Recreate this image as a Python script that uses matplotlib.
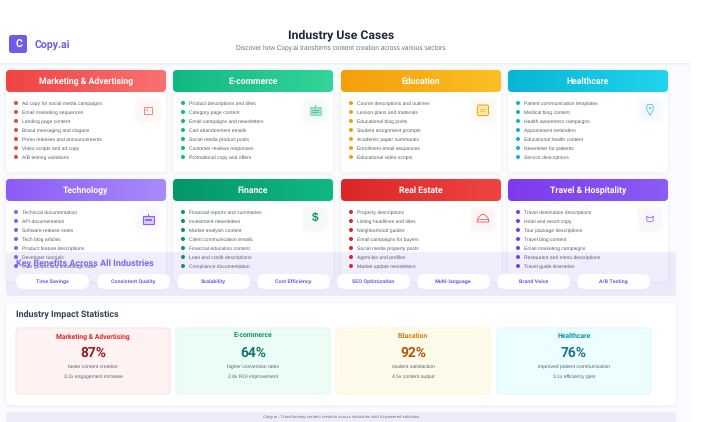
import numpy as np
import matplotlib
matplotlib.use("Agg")
import matplotlib.pyplot as plt
from matplotlib.patches import FancyBboxPatch, Rectangle, Circle, Polygon
from matplotlib.colors import to_rgb

# ---------- content ----------
brand = "Copy.ai"
title = "Industry Use Cases"
subtitle = "Discover how Copy.ai transforms content creation across various sectors"

industries = ["Marketing & Advertising", "E-commerce", "Education", "Healthcare",
              "Technology", "Finance", "Real Estate", "Travel & Hospitality"]
grad_start = ["#ef4444", "#10b981", "#f59e0b", "#06b6d4", "#8b5cf6", "#059669", "#dc2626", "#7c3aed"]
grad_end = ["#f87171", "#34d399", "#fbbf24", "#22d3ee", "#a78bfa", "#10b981", "#ef4444", "#8b5cf6"]
use_cases = [
    ["Ad copy for social media campaigns", "Email marketing sequences", "Landing page content",
     "Brand messaging and slogans", "Press releases and announcements", "Video scripts and ad copy", "A/B testing variations"],
    ["Product descriptions and titles", "Category page content", "Email campaigns and newsletters",
     "Cart abandonment emails", "Social media product posts", "Customer reviews responses", "Promotional copy and offers"],
    ["Course descriptions and outlines", "Lesson plans and materials", "Educational blog posts",
     "Student assignment prompts", "Academic paper summaries", "Enrollment email sequences", "Educational video scripts"],
    ["Patient communication templates", "Medical blog content", "Health awareness campaigns",
     "Appointment reminders", "Educational health content", "Newsletter for patients", "Service descriptions"],
    ["Technical documentation", "API documentation", "Software release notes", "Tech blog articles",
     "Product feature descriptions", "Developer tutorials", "User guides and knowledge base"],
    ["Financial reports and summaries", "Investment newsletters", "Market analysis content",
     "Client communication emails", "Financial education content", "Loan and credit descriptions", "Compliance documentation"],
    ["Property descriptions", "Listing headlines and titles", "Neighborhood guides", "Email campaigns for buyers",
     "Social media property posts", "Agent bio and profiles", "Market update newsletters"],
    ["Travel destination descriptions", "Hotel and resort copy", "Tour package descriptions", "Travel blog content",
     "Email marketing campaigns", "Restaurant and menu descriptions", "Travel guide itineraries"],
]
benefits_title = "Key Benefits Across All Industries"
benefits = ["Time Savings", "Consistent Quality", "Scalability", "Cost Efficiency",
            "SEO Optimization", "Multi-language", "Brand Voice", "A/B Testing"]
stats_title = "Industry Impact Statistics"
stat_names = ["Marketing & Advertising", "E-commerce", "Education", "Healthcare"]
stat_values = [87, 64, 92, 76]
stat_line1 = ["faster content creation", "higher conversion rates", "student satisfaction", "improved patient communication"]
stat_line2 = ["3.2x engagement increase", "2.8x ROI improvement", "4.5x content output", "3.1x efficiency gain"]
stat_bg = ["#fef2f2", "#ecfdf5", "#fffbeb", "#ecfeff"]
stat_edge = ["#fce0e0", "#dcfaea", "#fdf3d0", "#d8fafd"]
stat_head = ["#dc2626", "#059669", "#d97706", "#0891b2"]
stat_num = ["#991b1b", "#0f766e", "#b45309", "#1f6f93"]
footer = "Copy.ai - Transforming content creation across industries with AI-powered solutions"

FONT = "Liberation Sans"
plt.rcParams["font.family"] = FONT
plt.rcParams["text.hinting"] = "no_hinting"
plt.rcParams["text.hinting_factor"] = 8

fig = plt.figure(figsize=(7.11, 4.22), dpi=100)
ax = fig.add_axes([0, 0, 1, 1])
ax.set_xlim(0, 711)
ax.set_ylim(422, 0)
ax.axis("off")


def rbox(x0, y0, x1, y1, r, fc, ec="none", lw=0, z=1, alpha=None):
    p = FancyBboxPatch((x0 + r, y0 + r), x1 - x0 - 2 * r, y1 - y0 - 2 * r,
                       boxstyle=f"round,pad={r},rounding_size={r}",
                       fc=fc, ec=ec, lw=lw, zorder=z, alpha=alpha)
    ax.add_patch(p)
    return p


def gradient(x0, y0, x1, y1, r, c0, c1, z=2):
    c0, c1 = np.array(to_rgb(c0)), np.array(to_rgb(c1))
    t = np.linspace(0, 1, 128)[None, :, None]
    img = c0[None, None, :] * (1 - t) + c1[None, None, :] * t
    im = ax.imshow(img, extent=(x0, x1, y1, y0), aspect="auto", zorder=z, interpolation="bilinear")
    clip = rbox(x0, y0, x1, y1, r, "none", z=z)
    im.set_clip_path(clip)


def shadow(x0, y0, x1, y1, r, z):
    for d, a in ((3, 0.006), (2, 0.009), (1, 0.012)):
        rbox(x0 - d, y0 - d + 1, x1 + d, y1 + d + 1, r + d, "#475569", z=z, alpha=a)


def txt(x, y, s, size, color, ha="left", weight="normal", z=6, alpha=None, family=None):
    ax.text(x, y, s, fontsize=size, color=color, ha=ha, va="center", fontweight=weight,
            zorder=z, alpha=alpha, fontfamily=family or FONT)


# ---------- page background ----------
ax.add_patch(Rectangle((0, 63), 691, 359, fc="#f9fbfe", ec="none", zorder=0))
for i, a in enumerate((0.05, 0.03, 0.015)):
    ax.add_patch(Rectangle((0, 63 + i), 691, 1, fc="#334155", alpha=a, ec="none", zorder=0.5))

# ---------- header ----------
rbox(9, 35, 27, 53, 2.5, "#6c5ce7", z=2)
txt(18.5, 44.5, "C", 7.6, "white", ha="center", weight="bold", family="Roboto")
txt(35, 44.5, brand, 7.6, "#6c5ce7", weight="bold", family="Roboto")
txt(341, 35, title, 8.8, "#1e293b", ha="center", weight="bold", family="Roboto")
txt(341, 47.5, subtitle, 4.7, "#6b7280", ha="center")

# ---------- cards ----------
card_x = [(6, 166), (173, 333), (341, 501), (508, 668)]
rows = [(70, 92, 172, 103), (179, 201, 281, 212)]


def draw_icon(i, cx, cy, col):
    kw = dict(fill=False, ec=col, lw=0.7, zorder=4, alpha=0.65)
    if i == 0:
        ax.add_patch(Rectangle((cx - 4, cy - 3.5), 8, 7, **kw))
        ax.add_patch(Rectangle((cx - 2.5, cy - 1.5), 2.5, 2.5, fc=col, ec="none", alpha=0.4, zorder=4))
    elif i == 1:
        ax.add_patch(Rectangle((cx - 5.5, cy - 3), 11, 7.5, fc=col, ec=col, lw=0.7, alpha=0.35, zorder=4))
        ax.plot([cx - 3, cx + 3], [cy, cy], color=col, lw=0.6, alpha=0.7, zorder=5)
        ax.plot([cx - 3, cx + 3], [cy + 2, cy + 2], color=col, lw=0.6, alpha=0.7, zorder=5)
        ax.plot([cx, cx], [cy - 5, cy - 3], color=col, lw=0.7, alpha=0.7, zorder=5)
    elif i == 2:
        rbox(cx - 5.5, cy - 5, cx + 5.5, cy + 5.5, 1.5, "#fde9b0", ec=col, lw=0.7, z=4)
        ax.plot([cx - 3.5, cx + 3], [cy - 1.5, cy - 1.5], color=col, lw=0.6, alpha=0.7, zorder=5)
        ax.plot([cx - 3.5, cx + 1], [cy + 1, cy + 1], color=col, lw=0.6, alpha=0.7, zorder=5)
    elif i == 3:
        ax.add_patch(Polygon([(cx - 3.5, cy - 3), (cx - 2, cy - 5.5), (cx + 2, cy - 5.5), (cx + 3.5, cy - 3),
                              (cx + 3, cy), (cx, cy + 5.5), (cx - 3, cy)], closed=True, **kw))
        ax.add_patch(Circle((cx, cy - 2), 0.9, fc=col, ec="none", zorder=5))
    elif i == 4:
        ax.add_patch(Rectangle((cx - 5.5, cy - 3), 11, 7.5, fc="#d9ceff", ec=col, lw=0.8, zorder=4))
        ax.add_patch(Rectangle((cx - 3.5, cy - 0.5), 7, 2.5, fc=col, ec="none", alpha=0.9, zorder=5))
        ax.plot([cx, cx], [cy - 5.5, cy - 3], color=col, lw=0.7, zorder=5)
    elif i == 5:
        txt(cx, cy - 0.5, "$", 8.6, col, ha="center", weight="bold", z=5)
    elif i == 6:
        ax.add_patch(Polygon([(cx - 6, cy + 3), (cx - 5, cy - 1), (cx - 1.5, cy - 4.5), (cx + 1.5, cy - 4.5),
                              (cx + 5, cy - 1), (cx + 6, cy + 3)], closed=True, **kw))
        ax.plot([cx - 5, cx + 5], [cy - 0.5, cy - 0.5], color=col, lw=0.6, alpha=0.65, zorder=5)
    else:
        ax.add_patch(Polygon([(cx - 3.5, cy - 3), (cx - 1.5, cy - 1.5), (cx + 1.5, cy - 1.5), (cx + 3.5, cy - 3),
                              (cx + 3, cy + 2), (cx, cy + 3), (cx - 3, cy + 2)], closed=True, **kw))


for i, name in enumerate(industries):
    x0, x1 = card_x[i % 4]
    y0, y1, y2, ytext = rows[i // 4]
    shadow(x0, y0, x1, y2, 4, 1)
    rbox(x0, y1 - 4, x1, y2, 3, "white", z=1.5)
    gradient(x0, y0, x1, y1, 4, grad_start[i], grad_end[i])
    txt((x0 + x1) / 2, (y0 + y1) / 2 + 0.5, name, 6.2, "white", ha="center", weight="bold", family="Roboto")
    col = grad_start[i]
    for k, item in enumerate(use_cases[i]):
        yy = ytext + k * 9
        ax.add_patch(Circle((x0 + 10, yy), 2.0, fc=col, ec="none", zorder=3))
        txt(x0 + 16, yy + 0.2, item, 3.65, "#565f6d", z=3)
    ix, iy = x1 - 18, y1 + 18
    for d, a in ((3, 0.01), (1.5, 0.012), (0, 0.014)):
        rbox(ix - 11 - d, iy - 11 - d, ix + 11 + d, iy + 11 + d, 5, col, z=2.5, alpha=a)
    draw_icon(i, ix, iy, col)

# ---------- benefits overlay ----------
rbox(6, 252, 676, 296, 4, "#6c5ce7", z=7, alpha=0.1)
txt(16.5, 264, benefits_title, 6.5, "#6c5ce7", weight="bold", z=9, family="Roboto", alpha=0.9)
pill_x0 = [16, 97, 177, 257, 337, 417, 497, 577]
for bx, lab in zip(pill_x0, benefits):
    rbox(bx, 274, bx + 73, 289, 7.5, "white", z=8)
    txt(bx + 36.5, 281.5, lab, 3.9, "#6c5ce7", ha="center", weight="bold", z=9, family="Roboto")

# ---------- statistics ----------
shadow(6, 303, 676, 405, 5, 1)
rbox(6, 303, 676, 405, 5, "white", z=1.5)
txt(16.5, 315, stats_title, 6.4, "#334155", weight="bold", family="Roboto")
stat_x = [(16, 170), (176, 330), (336, 490), (497, 651)]
for i, (sx0, sx1) in enumerate(stat_x):
    rbox(sx0, 328, sx1, 394, 3.5, stat_bg[i], ec=stat_edge[i], lw=0.7, z=2)
    c = (sx0 + sx1) / 2
    txt(c, 336.5, stat_names[i], 4.9, stat_head[i], ha="center", weight="bold", family="Roboto")
    txt(c, 353.5, f"{stat_values[i]}%", 9.9, stat_num[i], ha="center", weight="bold", family="Roboto")
    txt(c, 367, stat_line1[i], 3.6, "#565f6d", ha="center")
    txt(c, 377, stat_line2[i], 3.6, "#565f6d", ha="center")

# ---------- footer ----------
ax.add_patch(Rectangle((6, 412), 670, 10, fc="#eeecfb", ec="none", zorder=1))
txt(341, 417, footer, 3.1, "#6b7280", ha="center")

fig.savefig("out.png", dpi=100)
